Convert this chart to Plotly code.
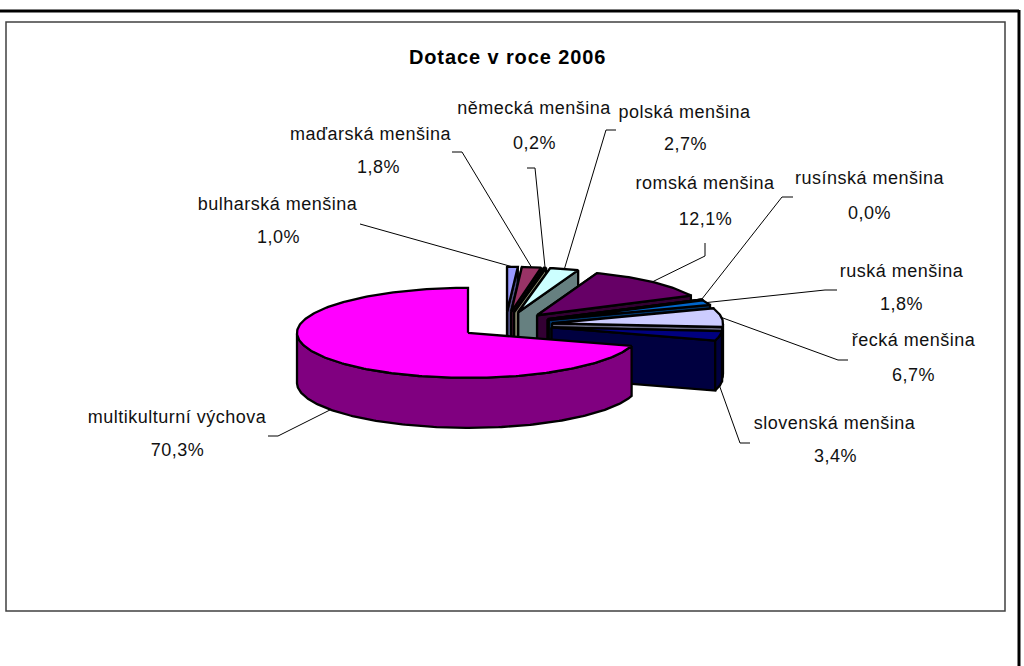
import math
import plotly.graph_objects as go

# ---- data ----
categories = ["bulharská menšina", "maďarská menšina", "německá menšina", "polská menšina",
              "romská menšina", "rusínská menšina", "ruská menšina", "řecká menšina",
              "slovenská menšina", "multikulturní výchova"]
shares = [1.0, 1.8, 0.2, 2.7, 12.1, 0.0, 1.8, 6.7, 3.4, 70.3]
pct_labels = ["1,0%", "1,8%", "0,2%", "2,7%", "12,1%", "0,0%", "1,8%", "6,7%", "3,4%", "70,3%"]
top_colors = ["#9999FF", "#993366", "#FFFFCC", "#CCFFFF", "#660066",
              "#FF8080", "#0066CC", "#CCCCFF", "#000080", "#FF00FF"]
side_colors = ["#4C4C80", "#4C1933", "#808066", "#668080", "#330033",
               "#804040", "#003366", "#666680", "#000040", "#800080"]

# ---- layout of the pseudo 3D pie ----
CX, CY = 505.6, 325.0
RX, RY = 171.0, 45.0
EX, EY = 46.8, 13.2
DEPTH = 50.0
OUTLINE = 2.3

# name centre x, name y, pct centre x, pct y
label_pos = [(278, 204, 278, 237), (371, 134, 378, 167), (534, 108, 534, 143), (685, 112, 685, 144),
             (705, 183, 705, 219), (870, 178, 869, 213), (902, 271, 901, 304), (914, 340, 913, 375),
             (835, 423, 835, 456), (177, 417, 177, 450)]
# leader routes from the slice edge to the label
leader_routes = [[(360, 224)], [(462, 152), (452, 152)], [(535, 168), (527, 168)], [(606, 130), (616, 130)],
                 [(705, 256), (705, 243)], [(782, 197), (793, 197)], [(825, 290), (837, 290)],
                 [(838, 360), (848, 360)], [(740, 443), (750, 443)], [(278, 436), (268, 436)]]

fig = go.Figure()


def poly(pts, fill):
    fig.add_trace(go.Scatter(x=[p[0] for p in pts] + [pts[0][0]], y=[p[1] for p in pts] + [pts[0][1]],
                             mode="lines", fill="toself", fillcolor=fill,
                             line=dict(color="black", width=OUTLINE), hoverinfo="skip", showlegend=False))


def edge(deg):
    a = math.radians(deg)
    return RX * math.sin(a), -RY * math.cos(a)


start = 0.0
total = sum(shares)
for i, v in enumerate(shares):
    end = start + 360 * v / total
    mid = math.radians((start + end) / 2)
    px = CX + EX * math.sin(mid)
    py = CY - EY * math.cos(mid)
    n = max(2, int(end - start) + 2)
    angles = [start + (end - start) * k / (n - 1) for k in range(n)]
    rim = [(px + edge(a)[0], py + edge(a)[1]) for a in angles]
    is_last = i == len(shares) - 1
    if not is_last:
        for a in (start, end):
            ex, ey = edge(a)
            poly([(px, py), (px + ex, py + ey), (px + ex, py + ey + DEPTH), (px, py + DEPTH)], side_colors[i])
    front = [(x, y) for a, (x, y) in zip(angles, rim) if math.cos(math.radians(a)) < 0]
    if len(front) > 1:
        poly(front + [(x, y + DEPTH) for x, y in reversed(front)], side_colors[i])
    poly([(px, py)] + rim, top_colors[i])

    # leader line
    mx, my = edge((start + end) / 2)
    sx, sy = px + mx, py + my
    if math.cos(mid) < 0:
        sy += DEPTH
    route = [(sx, sy)] + leader_routes[i]
    fig.add_trace(go.Scatter(x=[p[0] for p in route], y=[p[1] for p in route], mode="lines",
                             line=dict(color="black", width=1), hoverinfo="skip", showlegend=False))
    start = end

annotations = [dict(x=507, y=57, text="<b>Dotace v roce 2006</b>", showarrow=False,
                    font=dict(family="Liberation Sans", size=20, color="black"))]
for name, pct, (nx, ny, qx, qy) in zip(categories, pct_labels, label_pos):
    annotations.append(dict(x=nx, y=ny, text=name, showarrow=False,
                            font=dict(family="Liberation Sans", size=18, color="#111111")))
    annotations.append(dict(x=qx, y=qy, text=pct, showarrow=False,
                            font=dict(family="Liberation Sans", size=18, color="#111111")))

frames = [
    dict(type="line", x0=0, x1=1019, y0=11, y1=11, line=dict(color="black", width=3)),
    dict(type="line", x0=1019, x1=1019, y0=10, y1=666, line=dict(color="black", width=3)),
    dict(type="rect", x0=6, x1=1005, y0=22, y1=611, line=dict(color="#404040", width=1.5)),
]

fig.update_layout(width=1024, height=666, margin=dict(l=0, r=0, t=0, b=0),
                  paper_bgcolor="white", plot_bgcolor="white", showlegend=False,
                  xaxis=dict(range=[0, 1024], visible=False, fixedrange=True),
                  yaxis=dict(range=[666, 0], visible=False, fixedrange=True),
                  annotations=annotations, shapes=frames)

spacing_js = """
document.body.style.margin='0';
document.querySelectorAll('.annotation-text').forEach(function(t,i){t.style.letterSpacing=(t.querySelector('[style*=bold]')||t.textContent.indexOf('Dotace')===0)?'0.9px':'0.5px';});
"""
fig.write_html("out.html", post_script=spacing_js, config={"displayModeBar": False})
